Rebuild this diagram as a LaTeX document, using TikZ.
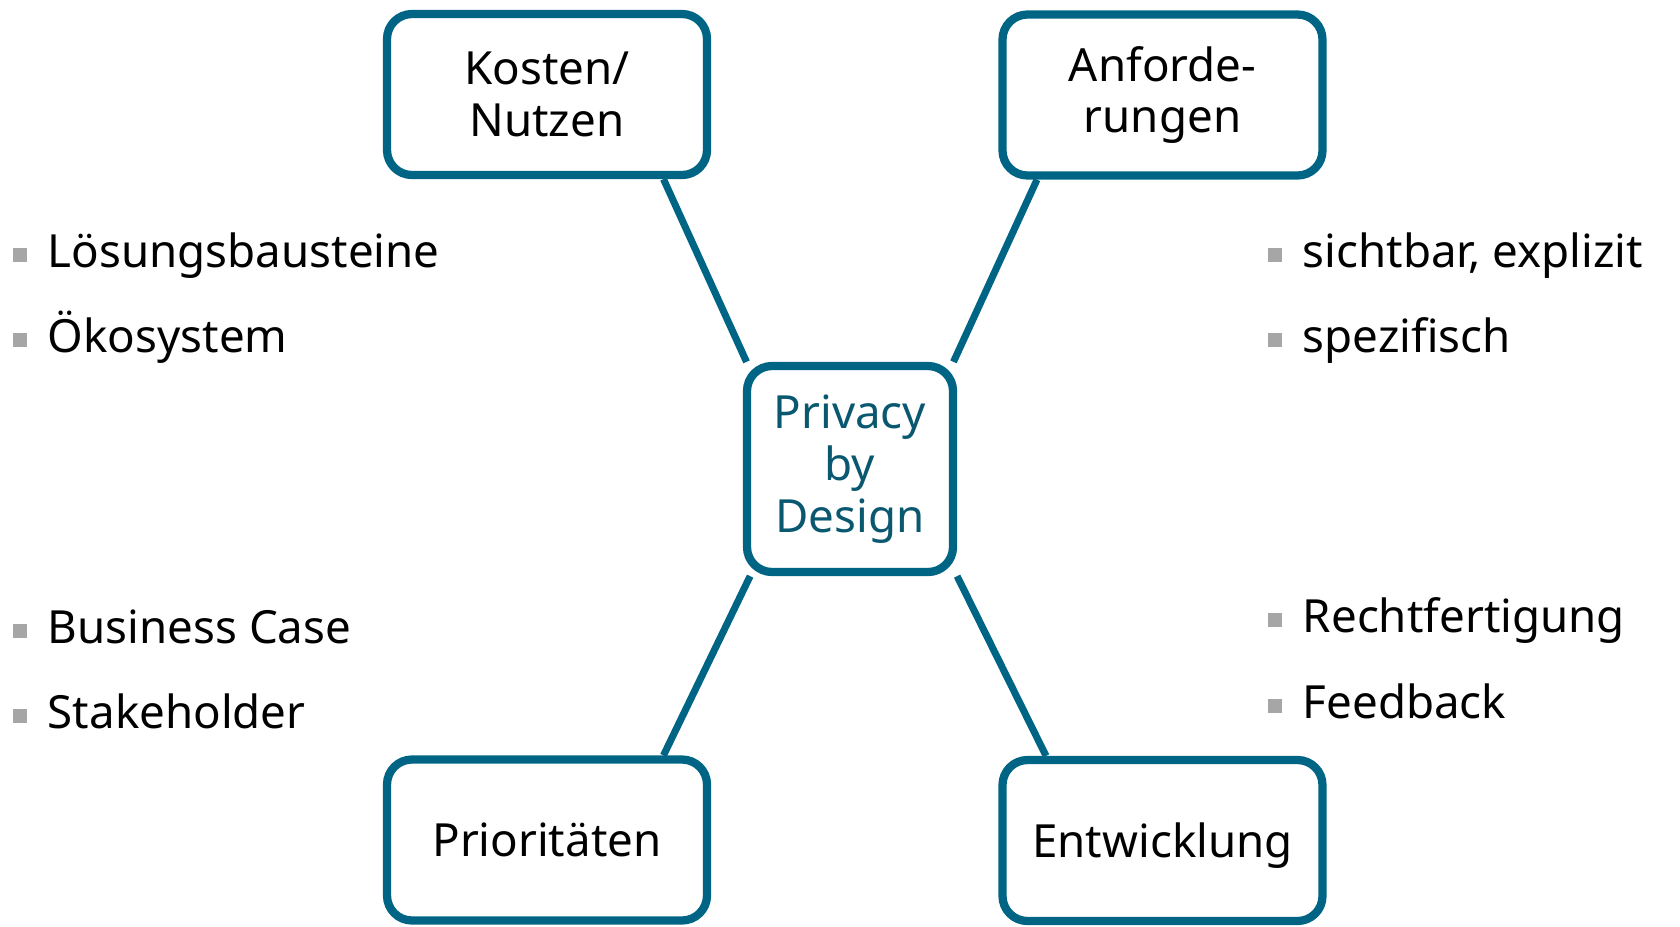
\documentclass[tikz,border=0pt]{standalone}
\usepackage{fontspec}
\setmainfont{Noto Sans}
\usepackage{tikz}
\usetikzlibrary{backgrounds}

\definecolor{pbdblue}{RGB}{0,101,132}
\definecolor{pbdtext}{RGB}{10,88,112}
\definecolor{bulletgrey}{RGB}{166,166,166}

\newcommand{\bitem}[1]{\textcolor{bulletgrey}{\rule[0.11cm]{0.27cm}{0.27cm}}\hspace{0.42cm}#1}

\begin{document}
\begin{tikzpicture}[
		box_style/.style={rectangle,rounded corners=0.5cm,draw=pbdblue,line width=4.7pt,fill=white,
			minimum width=6.4cm,minimum height=3.22cm,inner sep=0pt,align=center,
			font=\fontsize{26}{29.5}\selectfont},
		center_style/.style={box_style,minimum width=4.12cm,minimum height=4.12cm,text=pbdtext},
		item_style/.style={anchor=base west,inner sep=0pt,font=\fontsize{26}{29.5}\selectfont},
		edge_style/.style={draw=pbdblue,line width=4pt}]

		\useasboundingbox (0,0) rectangle (33.6,-18.52);

		\node[center_style] (pbd) at (17.0,-9.38) {Privacy\\by\\Design};
		\node[box_style] (kosten) at (10.94,-1.89) {Kosten/\\Nutzen};
		\node[box_style] (anford) at (23.25,-1.90) {Anforde-\\rungen};
		\node[box_style] (prio) at (10.94,-16.80) {Prioritäten};
		\node[box_style,text depth=0pt] (entw) at (23.25,-16.81) {Entwicklung};

		\node[item_style] (loes) at (0.26,-5.34) {\bitem{Lösungsbausteine}};
		\node[item_style] (oeko) at (0.26,-7.04) {\bitem{Ökosystem}};
		\node[item_style] (sicht) at (25.36,-5.34) {\bitem{sichtbar, explizit}};
		\node[item_style] (spez) at (25.36,-7.04) {\bitem{spezifisch}};
		\node[item_style] (busi) at (0.26,-12.86) {\bitem{Business Case}};
		\node[item_style] (stake) at (0.26,-14.56) {\bitem{Stakeholder}};
		\node[item_style] (recht) at (25.36,-12.64) {\bitem{Rechtfertigung}};
		\node[item_style] (feed) at (25.36,-14.36) {\bitem{Feedback}};

		\begin{scope}[on background layer]
		\draw[edge_style]  (kosten.-36) edge (pbd.134);
		\draw[edge_style]  (anford.-146) edge (pbd.46);
		\draw[edge_style]  (prio.36) edge (pbd.-133);
		\draw[edge_style]  (entw.144) edge (pbd.-45);
		\end{scope}
\end{tikzpicture}
\end{document}
